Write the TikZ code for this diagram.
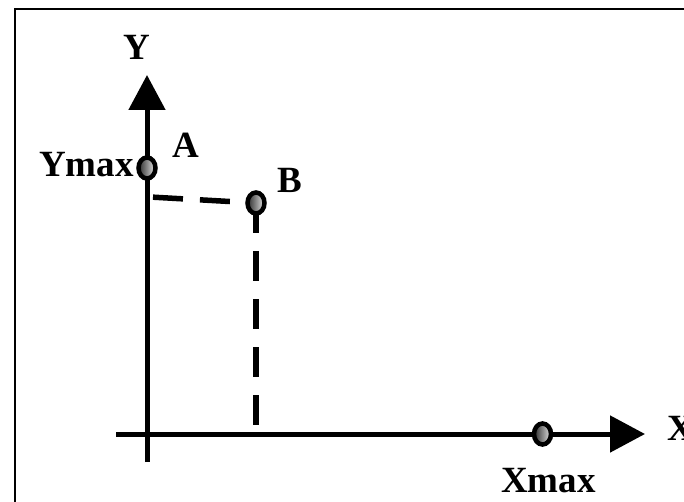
\documentclass[tikz,border=0pt]{standalone}
\usepackage{fontspec}
\setmainfont{Liberation Serif}
\usetikzlibrary{arrows.meta,shapes.geometric}

\begin{document}
\begin{tikzpicture}[
  x=1pt, y=-1pt,
  >={Triangle[length=35pt,width=36pt]},
  lbl/.style={font=\fontsize{37}{40}\selectfont\bfseries, inner sep=0pt},
  pt/.style={ellipse, draw=black, line width=4.5pt, minimum width=17pt,
    minimum height=21pt, inner sep=0pt,
    left color=gray!35!black, right color=gray!20},
  axis/.style={line width=5pt},
  guide/.style={line width=5.5pt}
]

% ============================================================
% Page and frame
% ============================================================
\clip (0,0) rectangle (684,502);
\draw[line width=2.5pt] (15,9) rectangle (720,540);

% ============================================================
% Axes
% ============================================================
\coordinate (ybot) at (147,462);
\coordinate (ytop) at (147,75);
\coordinate (xleft) at (116,434);
\coordinate (xright) at (645,434);
\draw[axis,->] (ybot) -- (ytop);
\draw[axis,->] (xleft) -- (xright);

% ============================================================
% Points A, B and Xmax
% ============================================================
\coordinate (pA) at (147,168);
\coordinate (pB) at (256,203);
\coordinate (pX) at (542.5,434);
\coordinate (yfoot) at (150,197);
\coordinate (xfoot) at (256,431);

% Dashed guide lines to B
\draw[guide, dash pattern=on 30pt off 17pt, dash phase=44pt] (yfoot) -- (pB);
\draw[guide, line width=6pt, dash pattern=on 30pt off 18pt] (pB) -- (xfoot);

\node[pt] (A) at (pA) {};
\node[pt] (B) at (pB) {};
\node[pt] (Xmax) at (pX) {};

% ============================================================
% Labels
% ============================================================
\node[lbl, anchor=base] (ylbl) at (137,60) {Y};
\node[lbl, anchor=base west] (xlbl) at (667,440) {X};
\node[lbl, anchor=base east] (ymaxlbl) at (134,177) {Ymax};
\node[lbl, anchor=base west] (xmaxlbl) at (501,492) {Xmax};
\node[lbl, anchor=base west] (albl) at (172,158) {A};
\node[lbl, anchor=base west] (blbl) at (277,193) {B};

\end{tikzpicture}
\end{document}
